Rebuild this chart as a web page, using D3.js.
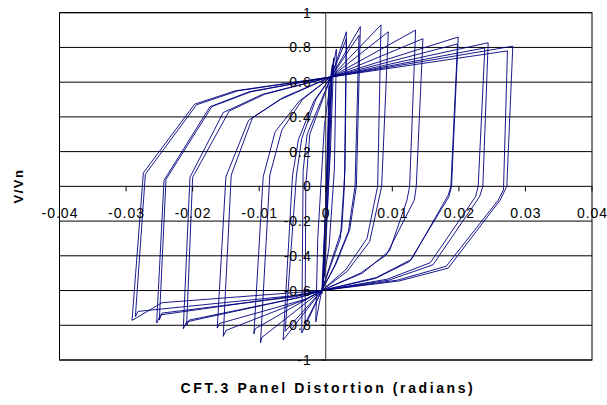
<!DOCTYPE html>
<html>
<head>
<meta charset="utf-8">
<script src="https://cdn.jsdelivr.net/npm/d3@7"></script>
<style>
  body { margin: 0; background: #fff; }
  text { font-family: Arial, "Liberation Sans", sans-serif; fill: #000; }
</style>
</head>
<body>
<svg id="chart" width="607" height="405"></svg>
<script>
// tick values and labels
const xTicks = [-0.04, -0.03, -0.02, -0.01, 0, 0.01, 0.02, 0.03, 0.04];
const xTickLabels = ["-0.04", "-0.03", "-0.02", "-0.01", "0", "0.01", "0.02", "0.03", "0.04"];
const yTicks = [1, 0.8, 0.6, 0.4, 0.2, 0, -0.2, -0.4, -0.6, -0.8, -1];
const yTickLabels = ["1", "0.8", "0.6", "0.4", "0.2", "0", "-0.2", "-0.4", "-0.6", "-0.8", "-1"];

// hysteresis cycles [distortion, V/Vn]
const cycA = [[-0.0003,-0.52],[0.0005,0.58],[0.0003,0.1],[-0.0003,-0.52]];
const cycB = [[-0.0005,-0.6],[0.0007,0.62],[0.0010,0.7],[0.0004,0.0],[-0.0001,-0.45],[-0.0005,-0.6]];
const cyc1 = [[-0.0002,-0.45],[0.0009,0.65],[0.0012,0.74],[0.0007,0.2],[-0.0003,-0.5],[-0.0006,-0.62],[0.0001,0.0],[0.0009,0.65]];
const cyc2 = [[0.0008,0.63],[0.0016,0.79],[0.0013,0.1],[0.0005,-0.35],[-0.0006,-0.60],[-0.0015,-0.78],[-0.0012,-0.3],[-0.0002,0.35],[0.0008,0.63]];
const cyc3 = [[0.0008,0.63],[0.0031,0.85],[0.0029,0.1],[0.0022,-0.3],[-0.0006,-0.60],[-0.0031,-0.79],[-0.0030,0.0],[-0.0024,0.3],[0.0008,0.63]];
const cyc4 = [[0.0008,0.63],[0.0031,0.89],[0.0028,0.0],[0.0024,-0.25],[-0.0006,-0.60],[-0.0036,-0.845],[-0.0034,0.09],[-0.0028,0.3],[0.0008,0.63]];
const cyc5 = [[0.0008,0.63],[0.0052,0.92],[0.0046,0.0],[0.0036,-0.25],[0.0015,-0.45],[-0.0006,-0.60],[-0.0061,-0.835],[-0.0044,0.065],[-0.0036,0.276],[-0.0015,0.5],[0.0008,0.63]];
const cyc6 = [[0.0008,0.63],[0.0050,0.87],[0.0044,0.0],[0.0034,-0.26],[0.0013,-0.46],[-0.0006,-0.60],[-0.0064,-0.885],[-0.0050,0.06],[-0.0041,0.27],[-0.0018,0.49],[0.0008,0.63]];
const cyc7 = [[0.0008,0.63],[0.0083,0.93],[0.0078,0.0],[0.0062,-0.30],[0.0030,-0.48],[-0.0006,-0.60],[-0.0096,-0.87],[-0.0098,-0.90],[-0.0084,0.065],[-0.0066,0.324],[-0.0035,0.5],[0.0008,0.63]];
const cyc8 = [[0.0008,0.63],[0.0094,0.89],[0.0084,0.0],[0.0066,-0.318],[0.0032,-0.49],[-0.0006,-0.60],[-0.0106,-0.82],[-0.0108,-0.85],[-0.0094,0.055],[-0.0076,0.314],[-0.0040,0.49],[0.0008,0.63]];
const cyc9 = [[0.0008,0.63],[0.0135,0.90],[0.0126,0.0],[0.0122,-0.08],[0.0096,-0.37],[0.0055,-0.5],[-0.0006,-0.60],[-0.0030,-0.65],[-0.0150,-0.83],[-0.0154,-0.864],[-0.0142,0.065],[-0.0110,0.396],[-0.0065,0.51],[0.0008,0.63]];
const cyc10 = [[0.0008,0.63],[0.0146,0.85],[0.0136,0.0],[0.0133,-0.08],[0.0091,-0.395],[0.0052,-0.5],[-0.0006,-0.60],[-0.0030,-0.65],[-0.0160,-0.79],[-0.0163,-0.816],[-0.0150,0.055],[-0.0116,0.38],[-0.0068,0.5],[0.0008,0.63]];
const cyc11 = [[0.0008,0.63],[0.0199,0.86],[0.0189,0.0],[0.0185,-0.06],[0.0126,-0.433],[0.0075,-0.53],[-0.0006,-0.60],[-0.0040,-0.64],[-0.0209,-0.78],[-0.0214,-0.82],[-0.0204,0.052],[-0.0154,0.425],[-0.0095,0.53],[0.0008,0.63]];
const cyc12 = [[0.0008,0.63],[0.0198,0.82],[0.0188,0.0],[0.0184,-0.05],[0.0129,-0.42],[0.0076,-0.525],[-0.0006,-0.60],[-0.0040,-0.64],[-0.0205,-0.77],[-0.0209,-0.80],[-0.0200,0.052],[-0.0145,0.434],[-0.0092,0.53],[0.0008,0.63]];
const cyc13 = [[0.0008,0.63],[0.0244,0.827],[0.0236,0.0],[0.0231,-0.06],[0.0161,-0.452],[0.0095,-0.54],[-0.0006,-0.60],[-0.0045,-0.63],[-0.0248,-0.74],[-0.0254,-0.787],[-0.0243,0.035],[-0.0174,0.458],[-0.0115,0.545],[0.0008,0.63]];
const cyc14 = [[0.0008,0.63],[0.0239,0.797],[0.0229,0.0],[0.0225,-0.06],[0.0157,-0.44],[0.0092,-0.535],[-0.0006,-0.60],[-0.0045,-0.635],[-0.0246,-0.73],[-0.0250,-0.77],[-0.0240,0.04],[-0.0171,0.46],[-0.0112,0.545],[0.0008,0.63]];
const cyc15 = [[0.0008,0.63],[0.0281,0.807],[0.0272,0.0],[0.0262,-0.079],[0.0184,-0.471],[0.0110,-0.545],[-0.0006,-0.60],[-0.0246,-0.67],[-0.0291,-0.772],[-0.0274,0.078],[-0.0197,0.473],[-0.0136,0.55],[0.0008,0.63]];
const cyc16 = [[0.0008,0.63],[0.0273,0.78],[0.0267,-0.02],[0.0259,-0.08],[0.0181,-0.46],[0.0108,-0.54],[-0.0006,-0.60],[-0.0050,-0.63],[-0.0282,-0.72],[-0.0286,-0.75],[-0.0271,0.07],[-0.0194,0.47],[-0.0132,0.55],[0.0008,0.63]];

const cycles = [cycA, cycB, cyc1, cyc2, cyc3, cyc4, cyc5, cyc6, cyc7, cyc8, cyc9, cyc10, cyc11, cyc12, cyc13, cyc14, cyc15, cyc16];

const svg = d3.select("#chart");

const x = d3.scaleLinear().domain([-0.04, 0.04]).range([59.5, 592]);
const y = d3.scaleLinear().domain([-1, 1]).range([360, 12.7]);

// horizontal gridlines
svg.append("g")
  .selectAll("line")
  .data(yTicks)
  .join("line")
  .attr("x1", x(-0.04)).attr("x2", x(0.04))
  .attr("y1", d => y(d)).attr("y2", d => y(d))
  .attr("stroke", "#000")
  .attr("stroke-width", 1);

// frame
svg.append("rect")
  .attr("x", x(-0.04)).attr("y", y(1))
  .attr("width", x(0.04) - x(-0.04))
  .attr("height", y(-1) - y(1))
  .attr("fill", "none")
  .attr("stroke", "#000");

// curves
const line = d3.line().x(d => x(d[0])).y(d => y(d[1]));
svg.append("g")
  .selectAll("path")
  .data(cycles)
  .join("path")
  .attr("d", line)
  .attr("fill", "none")
  .attr("stroke", "#000080")
  .attr("stroke-width", 0.9)
  .attr("stroke-linejoin", "miter");

// y axis at x = 0
svg.append("line")
  .attr("x1", x(0)).attr("x2", x(0))
  .attr("y1", y(1)).attr("y2", y(-1))
  .attr("stroke", "#333");

svg.append("g")
  .selectAll("line")
  .data(yTicks)
  .join("line")
  .attr("x1", x(0) - 4.5).attr("x2", x(0))
  .attr("y1", d => y(d)).attr("y2", d => y(d))
  .attr("stroke", "#000");

svg.append("g")
  .selectAll("text")
  .data(yTicks)
  .join("text")
  .attr("x", x(0) - 14)
  .attr("y", d => y(d))
  .attr("dy", "0.36em")
  .attr("text-anchor", "end")
  .style("font-size", "14px")
  .style("letter-spacing", "1px")
  .text((d, i) => yTickLabels[i]);

// x axis at y = 0
svg.append("g")
  .selectAll("line")
  .data(xTicks)
  .join("line")
  .attr("x1", d => x(d)).attr("x2", d => x(d))
  .attr("y1", y(0)).attr("y2", y(0) + 5)
  .attr("stroke", "#000");

svg.append("g")
  .selectAll("text")
  .data(xTicks)
  .join("text")
  .attr("x", d => x(d) + 0.5)
  .attr("y", y(0) + 32)
  .attr("text-anchor", "middle")
  .style("font-size", "14px")
  .style("letter-spacing", "1px")
  .text((d, i) => xTickLabels[i]);

// titles
svg.append("text")
  .attr("x", 328)
  .attr("y", 393)
  .attr("text-anchor", "middle")
  .style("font-size", "14px")
  .style("font-weight", "bold")
  .style("letter-spacing", "2.6px")
  .text("CFT.3 Panel Distortion (radians)");

svg.append("text")
  .attr("transform", "translate(23,186) rotate(-90)")
  .attr("text-anchor", "middle")
  .style("font-size", "13px")
  .style("font-weight", "bold")
  .style("letter-spacing", "1.5px")
  .text("V/Vn");
</script>
</body>
</html>
